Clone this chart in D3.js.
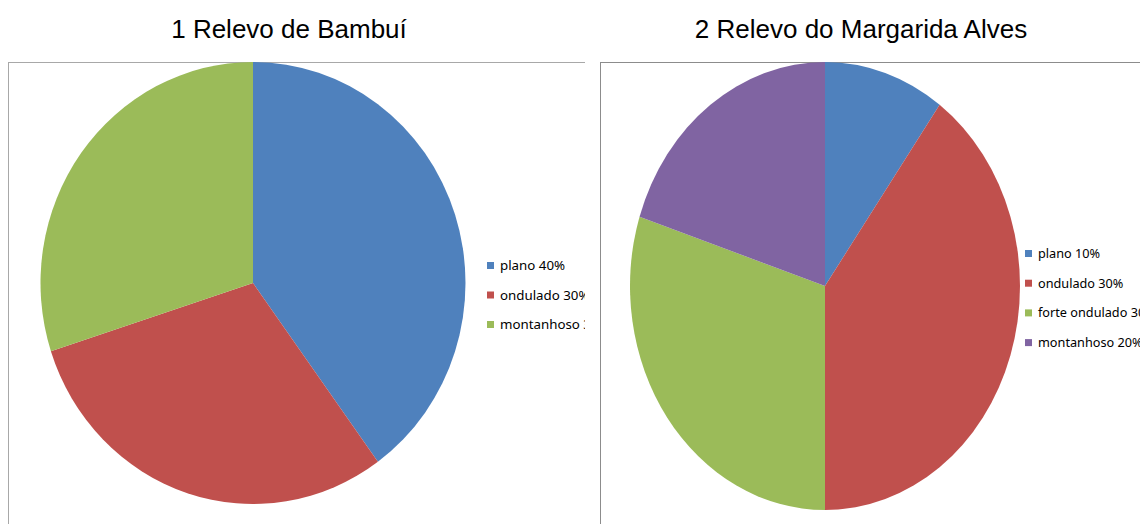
<!DOCTYPE html>
<html>
<head>
<meta charset="utf-8">
<script src="https://cdn.jsdelivr.net/npm/d3@7"></script>
<style>
  body { margin: 0; background: #fff; }
  svg { display: block; }
</style>
</head>
<body>
<div id="chart"></div>
<script>
// data
const titles = ["1 Relevo de Bambuí", "2 Relevo do Margarida Alves"];

const bambuiCategories = ["plano", "ondulado", "montanhoso"];
const bambuiValues = [40, 30, 30];
const bambuiLabels = ["plano 40%", "ondulado 30%", "montanhoso 30%"];

const margaridaCategories = ["plano", "ondulado", "forte ondulado", "montanhoso"];
const margaridaValues = [10, 40, 30, 20];
const margaridaLabels = ["plano 10%", "ondulado 30%", "forte ondulado 30%", "montanhoso 20%"];

const colors = {
    "plano": "#4F81BD",
    "ondulado": "#C0504D",
    "forte ondulado": "#9BBB59",
    "montanhoso": "#8064A2"
};
const colorsBambui = { "plano": "#4F81BD", "ondulado": "#C0504D", "montanhoso": "#9BBB59" };

const width = 1140, height = 524;

const svg = d3.select("#chart")
    .append("svg")
    .attr("width", width)
    .attr("height", height);

const charts = [
    { title: titles[0], cats: bambuiCategories, vals: bambuiValues, labels: bambuiLabels, col: colorsBambui,
      titleX: 289, box: { x: 8.5, y: 62.5, clipW: 585 }, cx: 253, cy: 283, rx: 212.5, ry: 221,
      legendX: 487, legendY: 270, legendStep: 29.5, fontSize: 13.3, border: "#a8a8a8" },
    { title: titles[1], cats: margaridaCategories, vals: margaridaValues, labels: margaridaLabels, col: colors,
      titleX: 861, box: { x: 600.5, y: 62.5, clipW: 1140 }, cx: 825, cy: 286, rx: 195, ry: 224,
      legendX: 1025, legendY: 258, legendStep: 29.7, fontSize: 12.7, border: "#8c8c8c" }
];

const pie = d3.pie().sort(null).value(d => d.value);

charts.forEach((c, i) => {
    // clip for each chart area
    const clipId = "clip" + i;
    svg.append("clipPath")
        .attr("id", clipId)
        .append("rect")
        .attr("x", c.box.x - 2)
        .attr("y", 0)
        .attr("width", c.box.clipW - c.box.x + 2)
        .attr("height", height);

    svg.append("text")
        .attr("x", c.titleX)
        .attr("y", 38)
        .attr("text-anchor", "middle")
        .attr("font-family", "Liberation Sans, Arial, sans-serif")
        .attr("font-size", 26)
        .attr("fill", "#000")
        .text(c.title);

    const g = svg.append("g").attr("clip-path", `url(#${clipId})`);

    g.append("rect")
        .attr("x", c.box.x)
        .attr("y", c.box.y)
        .attr("width", 700)
        .attr("height", 600)
        .attr("fill", "#fff")
        .attr("stroke", c.border)
        .attr("stroke-width", 1);

    const data = c.cats.map((k, j) => ({ key: k, value: c.vals[j] }));
    const arc = d3.arc().innerRadius(0).outerRadius(c.rx);

    g.append("g")
        .attr("transform", `translate(${c.cx},${c.cy}) scale(1,${c.ry / c.rx})`)
        .selectAll("path")
        .data(pie(data))
        .enter()
        .append("path")
        .attr("d", arc)
        .attr("fill", d => c.col[d.data.key]);

    const legend = g.append("g");
    c.labels.forEach((lab, j) => {
        const y = c.legendY + j * c.legendStep;
        legend.append("rect")
            .attr("x", c.legendX)
            .attr("y", y - 8)
            .attr("width", 7)
            .attr("height", 7)
            .attr("fill", c.col[c.cats[j]]);
        legend.append("text")
            .attr("x", c.legendX + 13)
            .attr("y", y)
            .attr("font-family", "Noto Sans, sans-serif")
            .attr("font-size", c.fontSize)
            .attr("fill", "#000")
            .text(lab);
    });
});
</script>
</body>
</html>
